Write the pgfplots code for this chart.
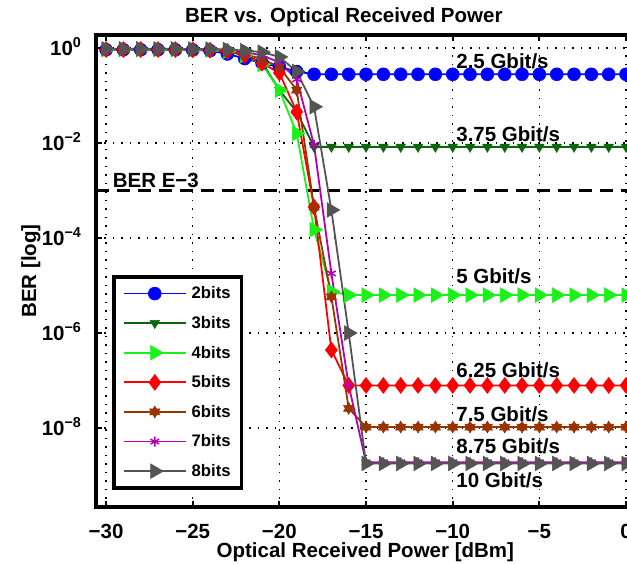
\documentclass[border=0pt]{standalone}
\usepackage{fontspec}
\setmainfont{Liberation Sans}
\usepackage{pgfplots}
\pgfplotsset{compat=1.18}
\definecolor{c2}{rgb}{0,0,1}
\definecolor{c3}{rgb}{0.05,0.4,0.05}
\definecolor{c4}{rgb}{0.1,0.95,0.1}
\definecolor{c5}{rgb}{1,0,0}
\definecolor{c6}{rgb}{0.6,0.2,0}
\definecolor{c7}{rgb}{0.7,0,0.7}
\definecolor{c8}{rgb}{0.33,0.33,0.33}
\newcommand\lf{\fontsize{20.5}{24}\selectfont\bfseries}
\pgfdeclareplotmark{hexagram}{%
  \pgfpathmoveto{\pgfqpointpolar{90}{\pgfplotmarksize}}%
  \pgfpathlineto{\pgfqpointpolar{210}{\pgfplotmarksize}}%
  \pgfpathlineto{\pgfqpointpolar{330}{\pgfplotmarksize}}%
  \pgfpathclose
  \pgfpathmoveto{\pgfqpointpolar{270}{\pgfplotmarksize}}%
  \pgfpathlineto{\pgfqpointpolar{30}{\pgfplotmarksize}}%
  \pgfpathlineto{\pgfqpointpolar{150}{\pgfplotmarksize}}%
  \pgfpathclose
  \pgfusepathqfillstroke}
\begin{document}
\begin{tikzpicture}
\begin{axis}[
  at={(96pt,56pt)}, anchor=south west,
  scale only axis, width=538.7pt, height=472pt,
  ymode=log, xmin=-30.58, xmax=0.5, ymin=2.18e-10, ymax=1.88,
  axis line style={line width=3.5pt},
  every tick/.style={black, line width=2pt}, major tick length=6pt, tick align=inside,
  yminorticks=false,
  xtick={-30,-25,-20,-15,-10,-5,0},
  xticklabels={−30,−25,−20,−15,−10,−5,0},
  ytick={1e-8,1e-6,1e-4,1e-2,1},
  yticklabels={10\textsuperscript{−8},10\textsuperscript{−6},10\textsuperscript{−4},10\textsuperscript{−2},10\textsuperscript{0}},
  xticklabel style={font=\lf, anchor=base, yshift=-31pt},
  yticklabel style={font=\lf, anchor=base east, xshift=-11pt, yshift=-7pt},
  grid=major, major grid style={black, line width=1.2pt, dash pattern=on 1.5pt off 7pt},
  title={BER vs. Optical Received Power},
  title style={font=\lf, at={(axis description cs:0.46,1)}, anchor=base, yshift=7pt},
  xlabel={Optical Received Power [dBm]},
  xlabel style={font=\lf, at={(axis description cs:0.5,0)}, anchor=base, yshift=-50pt},
  ylabel={BER [log]},
  ylabel style={font=\lf, at={(axis description cs:-0.121,0.5)}, anchor=center},
  legend style={at={(axis description cs:0.03,0.4915)}, anchor=north west, draw=black,
    line width=3.5pt, font=\fontsize{16.7}{20}\selectfont\bfseries, row sep=12pt,
    inner xsep=9pt, inner ysep=8pt, cells={anchor=west},
    /tikz/every odd column/.append style={column sep=3pt}},
  legend image code/.code={\draw[mark repeat=2,mark phase=2,line width=1.8pt,#1] plot coordinates {(0pt,0pt)(31pt,0pt)(62pt,0pt)};},
]
\addplot[black, line width=3pt, dash pattern=on 13pt off 8pt, forget plot] coordinates {(-30.58,1e-3)(0.5,1e-3)};

\addplot[c2, line width=1.8pt, mark=*, mark size=6.5pt, mark options={solid, fill=c2, draw=c2, line width=0.5pt}] coordinates {
(-30,0.92)(-29,0.92)(-28,0.92)(-27,0.92)(-26,0.92)(-25,0.91)(-24,0.88)(-23,0.75)(-22,0.6)(-21,0.48)(-20,0.4)(-19,0.32)(-18,0.28)(-17,0.28)(-16,0.28)(-15,0.28)(-14,0.28)(-13,0.28)(-12,0.28)(-11,0.28)(-10,0.28)(-9,0.28)(-8,0.28)(-7,0.28)(-6,0.28)(-5,0.28)(-4,0.28)(-3,0.28)(-2,0.28)(-1,0.28)(0,0.28)};
\addlegendentry{2bits}

\addplot[c3, line width=1.8pt, mark=triangle*, mark size=5.5pt, mark options={solid, rotate=180, fill=c3, draw=c3, line width=0.5pt}] coordinates {
(-30,0.93)(-29,0.93)(-28,0.93)(-27,0.93)(-26,0.93)(-25,0.92)(-24,0.9)(-23,0.85)(-22,0.72)(-21,0.5)(-20,0.13)(-19,0.045)(-18,8.3e-3)(-17,8.3e-3)(-16,8.3e-3)(-15,8.3e-3)(-14,8.3e-3)(-13,8.3e-3)(-12,8.3e-3)(-11,8.3e-3)(-10,8.3e-3)(-9,8.3e-3)(-8,8.3e-3)(-7,8.3e-3)(-6,8.3e-3)(-5,8.3e-3)(-4,8.3e-3)(-3,8.3e-3)(-2,8.3e-3)(-1,8.3e-3)(0,8.3e-3)};
\addlegendentry{3bits}

\addplot[c4, line width=1.8pt, mark=triangle*, mark size=8.5pt, mark options={solid, rotate=-90, fill=c4, draw=c4, line width=0.5pt}] coordinates {
(-30,0.93)(-29,0.93)(-28,0.93)(-27,0.93)(-26,0.93)(-25,0.92)(-24,0.9)(-23,0.85)(-22,0.7)(-21,0.45)(-20,0.13)(-19,0.016)(-18,1.5e-4)(-17,7.5e-6)(-16,6.3e-6)(-15,6.3e-6)(-14,6.3e-6)(-13,6.3e-6)(-12,6.3e-6)(-11,6.3e-6)(-10,6.3e-6)(-9,6.3e-6)(-8,6.3e-6)(-7,6.3e-6)(-6,6.3e-6)(-5,6.3e-6)(-4,6.3e-6)(-3,6.3e-6)(-2,6.3e-6)(-1,6.3e-6)(0,6.3e-6)};
\addlegendentry{4bits}

\addplot[c5, line width=1.8pt, mark=diamond*, mark size=8pt, mark options={solid, fill=c5, draw=c5, line width=0.5pt}] coordinates {
(-30,0.93)(-29,0.93)(-28,0.93)(-27,0.93)(-26,0.93)(-25,0.92)(-24,0.9)(-23,0.85)(-22,0.7)(-21,0.48)(-20,0.3)(-19,0.045)(-18,4.5e-4)(-17,4.4e-7)(-16,7.9e-8)(-15,7.9e-8)(-14,7.9e-8)(-13,7.9e-8)(-12,7.9e-8)(-11,7.9e-8)(-10,7.9e-8)(-9,7.9e-8)(-8,7.9e-8)(-7,7.9e-8)(-6,7.9e-8)(-5,7.9e-8)(-4,7.9e-8)(-3,7.9e-8)(-2,7.9e-8)(-1,7.9e-8)(0,7.9e-8)};
\addlegendentry{5bits}

\addplot[c6, line width=1.8pt, mark=hexagram, mark size=6pt, mark options={solid, fill=c6, draw=c6, line width=0.5pt}] coordinates {
(-30,0.93)(-29,0.93)(-28,0.93)(-27,0.93)(-26,0.93)(-25,0.92)(-24,0.9)(-23,0.87)(-22,0.75)(-21,0.58)(-20,0.4)(-19,0.13)(-18,4.5e-4)(-17,5.8e-6)(-16,2.6e-8)(-15,1.05e-8)(-14,1.05e-8)(-13,1.05e-8)(-12,1.05e-8)(-11,1.05e-8)(-10,1.05e-8)(-9,1.05e-8)(-8,1.05e-8)(-7,1.05e-8)(-6,1.05e-8)(-5,1.05e-8)(-4,1.05e-8)(-3,1.05e-8)(-2,1.05e-8)(-1,1.05e-8)(0,1.05e-8)};
\addlegendentry{6bits}

\addplot[c7, line width=1.8pt, mark=asterisk, mark size=5pt, mark options={solid, draw=c7, line width=1.5pt}] coordinates {
(-30,0.95)(-29,0.95)(-28,0.95)(-27,0.95)(-26,0.95)(-25,0.94)(-24,0.93)(-23,0.9)(-22,0.82)(-21,0.7)(-20,0.5)(-19,0.22)(-18,9.1e-3)(-17,1.8e-5)(-16,7.9e-8)(-15,1.9e-9)(-14,1.9e-9)(-13,1.9e-9)(-12,1.9e-9)(-11,1.9e-9)(-10,1.9e-9)(-9,1.9e-9)(-8,1.9e-9)(-7,1.9e-9)(-6,1.9e-9)(-5,1.9e-9)(-4,1.9e-9)(-3,1.9e-9)(-2,1.9e-9)(-1,1.9e-9)(0,1.9e-9)};
\addlegendentry{7bits}

\addplot[c8, line width=1.8pt, mark=triangle*, mark size=8.5pt, mark options={solid, rotate=-90, fill=c8, draw=c8, line width=0.5pt}] coordinates {
(-30,0.96)(-29,0.96)(-28,0.96)(-27,0.96)(-26,0.96)(-25,0.95)(-24,0.95)(-23,0.93)(-22,0.88)(-21,0.82)(-20,0.65)(-19,0.32)(-18,0.058)(-17,3.9e-4)(-16,1e-6)(-15,1.8e-9)(-14,1.8e-9)(-13,1.8e-9)(-12,1.8e-9)(-11,1.8e-9)(-10,1.8e-9)(-9,1.8e-9)(-8,1.8e-9)(-7,1.8e-9)(-6,1.8e-9)(-5,1.8e-9)(-4,1.8e-9)(-3,1.8e-9)(-2,1.8e-9)(-1,1.8e-9)(0,1.8e-9)};
\addlegendentry{8bits}

\node[anchor=base west, font=\lf, inner sep=0pt] at (axis cs:-29.62,1.17e-3) {BER E−3};
\node[anchor=base west, font=\lf, inner sep=0pt] at (axis cs:-9.8,0.363) {2.5 Gbit/s};
\node[anchor=base west, font=\lf, inner sep=0pt] at (axis cs:-9.8,1.1e-2) {3.75 Gbit/s};
\node[anchor=base west, font=\lf, inner sep=0pt] at (axis cs:-9.8,1.12e-5) {5 Gbit/s};
\node[anchor=base west, font=\lf, inner sep=0pt] at (axis cs:-9.8,1.17e-7) {6.25 Gbit/s};
\node[anchor=base west, font=\lf, inner sep=0pt] at (axis cs:-9.8,1.4e-8) {7.5 Gbit/s};
\node[anchor=base west, font=\lf, inner sep=0pt] at (axis cs:-9.8,2.95e-9) {8.75 Gbit/s};
\node[anchor=base west, font=\lf, inner sep=0pt] at (axis cs:-9.8,5.5e-10) {10 Gbit/s};
\end{axis}
\pgfresetboundingbox
\useasboundingbox (0pt,0pt) rectangle (627pt,563pt);
\end{tikzpicture}
\end{document}
